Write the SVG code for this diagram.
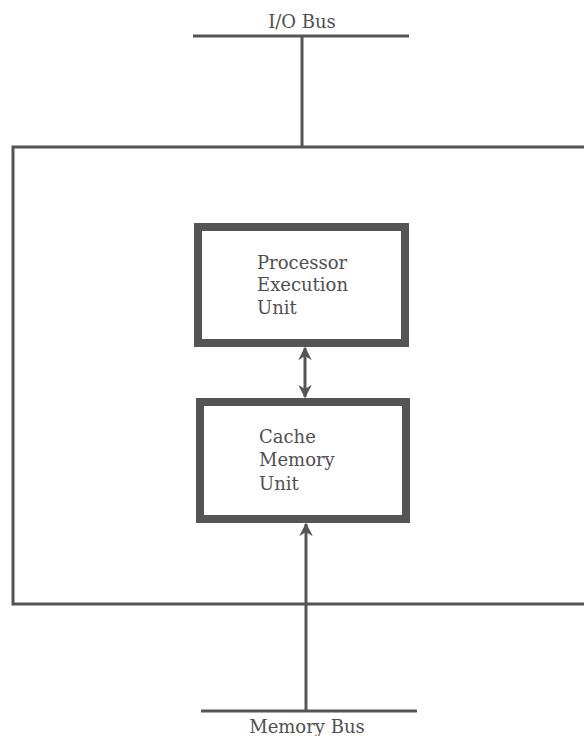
<svg xmlns="http://www.w3.org/2000/svg" width="584" height="736" viewBox="0 0 584 736">
<style>
.t{font-family:"DejaVu Serif","Liberation Serif",serif;font-size:18px;fill:#505050}
.thin{stroke:#555;stroke-width:3;fill:none}
.box{stroke:#555;stroke-width:8;fill:#fff}
</style>
<defs>
<marker id="ah" viewBox="0 0 10 10" refX="9" refY="5" markerWidth="4.5" markerHeight="4.5" orient="auto-start-reverse" markerUnits="strokeWidth">
<path d="M0,0 L10,5 L0,10 L3,5 z" fill="#555"/>
</marker>
</defs>
<rect width="584" height="736" fill="#fff"/>
<g id="io-bus">
<line class="thin" x1="193" y1="36" x2="409" y2="36"/>
<text class="t" x="302" y="28" text-anchor="middle" font-family="DejaVu Serif, serif">I/O Bus</text>
</g>
<g id="outer">
<path class="thin" d="M586,147 H13 V604 H586"/>
</g>
<g id="processor">
<rect class="box" x="198" y="227" width="207" height="116"/>
<text class="t" x="257" y="269">Processor</text>
<text class="t" x="257" y="291">Execution</text>
<text class="t" x="257" y="314">Unit</text>
</g>
<g id="cache">
<rect class="box" x="200" y="402" width="206" height="117"/>
<text class="t" x="259" y="443">Cache</text>
<text class="t" x="259" y="466">Memory</text>
<text class="t" x="259" y="490">Unit</text>
</g>
<g id="memory-bus">
<line class="thin" x1="201" y1="711" x2="417" y2="711"/>
<text class="t" x="307" y="733" text-anchor="middle">Memory Bus</text>
</g>
<g id="connectors">
<line class="thin" x1="302" y1="36" x2="302" y2="147"/>
<line class="thin" x1="305" y1="348" x2="305" y2="397" marker-start="url(#ah)" marker-end="url(#ah)"/>
<line class="thin" x1="306" y1="711" x2="306" y2="524" marker-end="url(#ah)"/>
</g>
</svg>
